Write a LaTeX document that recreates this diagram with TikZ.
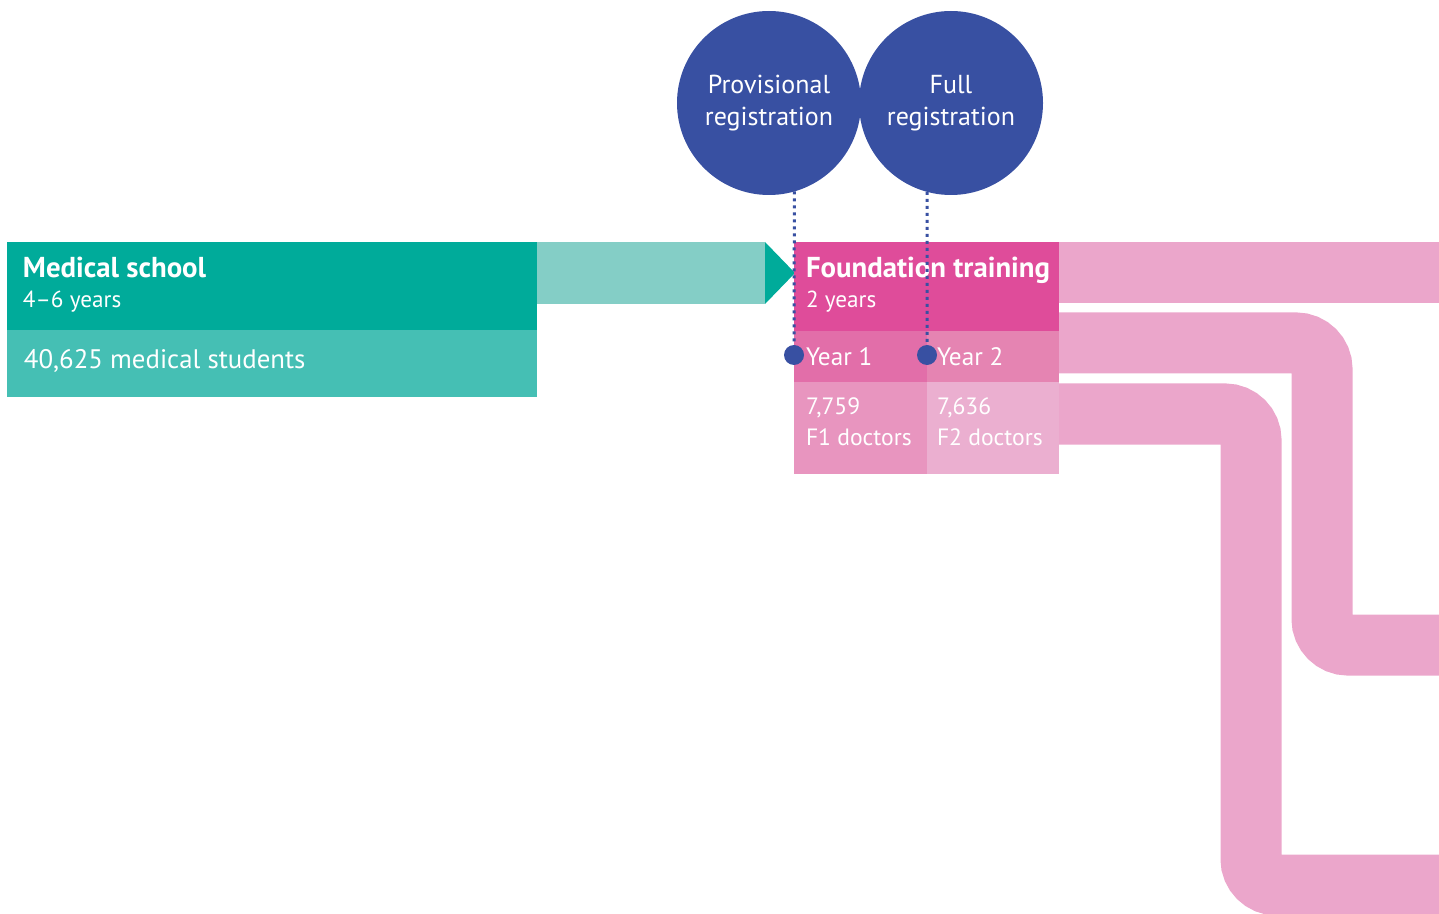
\documentclass[tikz,border=0pt]{standalone}
\usepackage{fontspec}
\setmainfont{PT Sans}
\usetikzlibrary{positioning}

\definecolor{schoolteal}{HTML}{00AB9A}
\definecolor{studentteal}{HTML}{45BFB4}
\definecolor{arrowteal}{HTML}{84CEC6}
\definecolor{foundpink}{HTML}{DF4C9A}
\definecolor{yearonepink}{HTML}{E26EA9}
\definecolor{yeartwopink}{HTML}{E584B2}
\definecolor{fonepink}{HTML}{E895BF}
\definecolor{ftwopink}{HTML}{EBAFD0}
\definecolor{bandpink}{HTML}{EBA6CB}
\definecolor{regblue}{HTML}{3850A2}

\begin{document}
\begin{tikzpicture}[
            x = 0.5pt, y = -0.5pt, % one unit per pixel, y runs down
            node distance = 0pt, % boxes sit flush
            inner sep = 0pt,
            outer sep = 0pt,
            text = white
        ]

        \tikzstyle{block}=[
            rectangle,
            anchor = north west
        ]
        \tikzstyle{boxtitle}=[
            anchor = base west,
            font = \bfseries\fontsize{14.4}{16}\selectfont
        ]
        \tikzstyle{boxsub}=[
            anchor = base west,
            font = \fontsize{11.6}{13}\selectfont
        ]
        \tikzstyle{boxcount}=[
            anchor = base west,
            font = \fontsize{11.8}{13}\selectfont
        ]
        \tikzstyle{band}=[
            draw = bandpink,
            line width = 30.5pt,
            rounded corners = 13pt
        ]
        \tikzstyle{reg}=[
            circle,
            fill = regblue,
            minimum size = 92pt,
            align = center,
            font = \fontsize{13}{16}\selectfont
        ]
        \tikzstyle{regdot}=[
            circle,
            fill = regblue,
            minimum size = 10pt
        ]
        \tikzstyle{regline}=[
            draw = regblue,
            line width = 1.5pt,
            dash pattern = on 1.5pt off 2pt
        ]

        \useasboundingbox (0,0) rectangle (1439,914);
        \clip (0,0) rectangle (1439,914);

        % bands leaving foundation training
        \coordinate (b1s) at (1059,273);
        \coordinate (b1e) at (1450,273);
        \coordinate (b2s) at (1059,343);
        \coordinate (b2e) at (1450,645);
        \coordinate (b3s) at (1059,414);
        \coordinate (b3e) at (1450,885);
        \draw[band] (b1s) -- (b1e);
        \draw[band] (b2s) -| (1322,645) -- (b2e);
        \draw[band] (b3s) -| (1251,885) -- (b3e);

        % medical school
        \node[block, fill=schoolteal, minimum width=265pt, minimum height=44pt] (med) at (7,242) {};
        \node[block, fill=studentteal, minimum width=265pt, minimum height=33.5pt, below=of med] (stud) {};
        \node[block, fill=arrowteal, minimum width=114pt, minimum height=31pt, below right=of med.north east] (shaft) {};
        \fill[schoolteal] (shaft.north east) -- ([xshift=15pt]shaft.east) -- (shaft.south east) -- cycle;

        \node[boxtitle] (medtitle) at ([shift={(16,36)}]med.north west) {Medical school};
        \node[boxsub] (medyears) at ([shift={(16,66)}]med.north west) {4–6 years};
        \node[boxtitle, font=\fontsize{13.4}{16}\selectfont] (studtext) at ([shift={(17,39)}]stud.north west) {40,625 medical students};

        % foundation training
        \node[block, fill=foundpink, minimum width=132.5pt, minimum height=44.5pt] (found) at (794,242) {};
        \node[block, fill=yearonepink, minimum width=66.5pt, minimum height=25.5pt, below right=of found.south west] (year1) {};
        \node[block, fill=yeartwopink, minimum width=66pt, minimum height=25.5pt, right=of year1] (year2) {};
        \node[block, fill=fonepink, minimum width=66.5pt, minimum height=46pt, below=of year1] (f1) {};
        \node[block, fill=ftwopink, minimum width=66pt, minimum height=46pt, below=of year2] (f2) {};

        \node[boxtitle] (foundtitle) at ([shift={(12,36)}]found.north west) {Foundation training};
        \node[boxsub] (foundyears) at ([shift={(12,66)}]found.north west) {2 years};
        \node[boxcount, font=\fontsize{12.6}{14}\selectfont] (year1text) at ([shift={(12,34)}]year1.north west) {Year 1};
        \node[boxcount, font=\fontsize{12.6}{14}\selectfont] (year2text) at ([shift={(10,34)}]year2.north west) {Year 2};
        \node[boxcount] (f1num) at ([shift={(12,33)}]f1.north west) {7,759};
        \node[boxcount] (f1text) at ([shift={(12,63)}]f1.north west) {F1 doctors};
        \node[boxcount] (f2num) at ([shift={(10,33)}]f2.north west) {7,636};
        \node[boxcount] (f2text) at ([shift={(10,63)}]f2.north west) {F2 doctors};

        % registration
        \node[reg] (prov) at (769,103) {Provisional\\registration};
        \node[reg] (full) at (951,103) {Full\\registration};
        \node[regdot] (dot1) at (794,355) {};
        \node[regdot] (dot2) at (927,355) {};

        \draw[regline] (prov.-74) -- (dot1);
        \draw[regline] (full.-105) -- (dot2);


        %\draw[red, dashed] (0,242) -- (1439,242);
    \end{tikzpicture}
\end{document}
